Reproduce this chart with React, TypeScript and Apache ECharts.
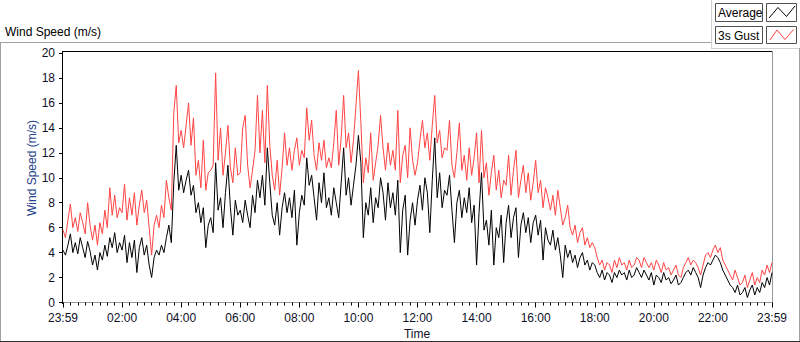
import React, { useEffect, useRef } from "react";
import * as echarts from "echarts";

// Sampling step of the series, minutes (x axis is minutes since 23:59 of the previous day)
const STEP_MIN = 5;

// Average wind speed (m/s), one value every 5 minutes, one row per hour
const avgSpeed = [
  4.2, 3.8, 4.6, 5.5, 4.0, 4.8, 3.9, 5.2, 4.4, 3.6, 4.9, 4.1, // 00
  3.0, 3.8, 2.6, 4.0, 3.4, 4.6, 3.7, 5.2, 4.4, 5.6, 4.0, 4.8, // 01
  4.2, 5.4, 3.2, 4.8, 3.6, 5.0, 2.4, 4.4, 5.2, 3.8, 4.6, 3.0, // 02
  2.0, 3.6, 4.2, 3.8, 4.6, 4.0, 5.2, 6.2, 4.8, 9.6, 12.6, 9.0, // 03
  10.2, 8.8, 9.8, 10.6, 8.6, 9.4, 7.2, 8.0, 6.4, 7.6, 4.4, 6.2, // 04
  6.8, 5.6, 11.2, 7.4, 8.4, 6.0, 8.8, 11.0, 7.6, 5.4, 8.2, 7.0, // 05
  7.4, 6.4, 8.2, 7.0, 6.0, 8.6, 7.2, 9.8, 8.4, 10.2, 7.8, 12.4, // 06
  9.6, 7.0, 6.2, 8.0, 5.4, 7.6, 8.8, 7.2, 8.4, 6.8, 9.0, 4.6, // 07
  7.2, 8.6, 7.8, 11.6, 9.4, 10.2, 8.4, 6.6, 9.6, 8.0, 10.4, 7.6, // 08
  8.4, 7.0, 9.2, 8.0, 6.8, 9.6, 12.4, 8.6, 10.0, 7.8, 9.4, 11.0, // 09
  13.4, 11.2, 5.2, 8.0, 7.0, 9.2, 6.4, 8.4, 7.6, 10.0, 8.8, 6.6, // 10
  9.6, 7.6, 8.8, 7.0, 9.8, 4.0, 7.4, 8.6, 3.8, 6.6, 8.0, 6.2, // 11
  8.2, 9.4, 7.4, 10.0, 8.8, 5.6, 9.8, 13.2, 8.4, 10.4, 7.6, 9.0, // 12
  8.6, 10.2, 7.4, 4.8, 8.0, 9.0, 6.8, 8.4, 7.2, 9.2, 6.4, 7.8, // 13
  3.0, 7.2, 10.4, 5.8, 6.6, 4.6, 7.4, 3.0, 6.0, 5.2, 7.0, 3.2, // 14
  6.4, 7.8, 5.2, 6.8, 7.6, 3.6, 6.2, 7.2, 5.6, 6.8, 4.8, 6.4, // 15
  7.0, 5.4, 6.6, 3.4, 6.0, 5.0, 4.6, 5.8, 4.2, 5.2, 3.8, 2.0, // 16
  4.6, 3.6, 4.2, 3.2, 3.8, 2.8, 3.6, 4.0, 3.0, 3.4, 2.6, 3.2, // 17
  3.0, 2.4, 2.0, 2.6, 1.8, 2.4, 2.2, 1.6, 2.4, 2.0, 2.6, 2.2, // 18
  2.4, 1.8, 2.6, 2.0, 2.2, 2.8, 2.4, 2.0, 2.6, 2.2, 1.8, 2.4, // 19
  1.4, 2.2, 2.0, 1.6, 2.4, 1.8, 2.0, 1.5, 1.8, 2.2, 1.4, 1.6, // 20
  2.0, 2.4, 2.6, 2.2, 2.8, 2.4, 2.0, 1.2, 2.2, 2.8, 3.2, 3.0, // 21
  3.4, 3.8, 3.6, 3.2, 2.6, 2.2, 1.8, 1.4, 1.2, 0.8, 1.4, 0.6, // 22
  0.8, 1.2, 0.4, 1.0, 1.4, 0.6, 1.2, 0.8, 1.6, 1.2, 2.0, 1.4, // 23
  2.4,
];

// 3 second gust (m/s), same sampling
const gustSpeed = [
  5.8, 5.2, 6.6, 7.9, 6.0, 6.8, 5.7, 7.2, 6.4, 5.5, 8.0, 6.2, // 00
  5.0, 6.2, 4.6, 6.4, 5.5, 7.4, 6.0, 9.2, 7.0, 8.6, 6.8, 7.6, // 01
  7.2, 9.5, 6.6, 8.4, 7.0, 8.8, 6.2, 7.8, 9.0, 7.2, 8.2, 6.0, // 02
  3.8, 6.2, 7.0, 6.0, 7.8, 6.8, 9.8, 8.4, 7.4, 15.2, 17.4, 12.8, // 03
  13.8, 12.4, 14.2, 16.0, 12.6, 14.8, 10.2, 11.4, 9.2, 13.0, 9.0, 10.4, // 04
  10.6, 11.0, 18.4, 11.4, 14.0, 10.2, 12.0, 14.2, 10.8, 9.6, 12.4, 10.2, // 05
  10.4, 14.0, 15.0, 11.0, 9.2, 10.6, 12.2, 16.6, 12.0, 15.4, 11.2, 17.4, // 06
  12.6, 10.2, 9.0, 11.4, 8.6, 10.8, 13.6, 11.0, 12.4, 10.6, 12.2, 13.2, // 07
  11.0, 12.2, 11.6, 15.6, 13.0, 14.6, 11.8, 10.6, 12.8, 11.4, 13.0, 10.8, // 08
  11.6, 10.8, 12.8, 15.4, 11.0, 13.2, 16.6, 12.4, 13.6, 11.2, 13.0, 15.8, // 09
  18.6, 14.4, 9.6, 11.6, 10.4, 13.6, 9.8, 11.2, 12.6, 15.0, 12.4, 10.6, // 10
  12.8, 11.0, 12.2, 10.6, 15.4, 9.6, 11.8, 12.6, 10.0, 14.0, 11.4, 10.2, // 11
  11.2, 13.0, 14.6, 12.4, 13.6, 11.4, 14.2, 16.6, 12.8, 13.8, 11.6, 12.4, // 12
  12.2, 14.6, 11.0, 10.0, 12.0, 14.4, 10.6, 11.8, 9.8, 12.4, 10.2, 11.6, // 13
  13.6, 9.6, 13.8, 10.0, 11.2, 8.6, 10.4, 11.8, 9.0, 10.6, 8.4, 9.8, // 14
  9.4, 11.8, 8.6, 10.6, 12.2, 8.4, 9.8, 11.0, 8.8, 10.4, 8.2, 9.6, // 15
  11.4, 8.8, 9.8, 7.6, 9.2, 8.4, 7.4, 8.6, 7.0, 9.0, 7.6, 6.2, // 16
  6.8, 7.8, 6.0, 5.4, 6.2, 4.8, 5.6, 6.0, 4.6, 5.2, 4.4, 4.8, // 17
  4.4, 3.6, 3.0, 3.4, 2.6, 3.2, 3.0, 2.4, 3.4, 2.8, 3.6, 3.0, // 18
  3.2, 2.6, 3.4, 2.8, 3.0, 3.6, 3.4, 2.8, 3.6, 3.2, 2.8, 3.2, // 19
  2.6, 3.4, 3.0, 2.4, 3.2, 2.6, 2.8, 2.2, 2.6, 3.0, 2.2, 2.0, // 20
  2.8, 3.2, 3.6, 3.0, 3.4, 3.2, 2.8, 2.2, 3.0, 3.8, 4.0, 3.6, // 21
  4.2, 4.6, 4.0, 4.4, 3.4, 3.0, 2.6, 2.2, 1.8, 2.6, 2.0, 1.4, // 22
  1.6, 2.2, 1.2, 1.8, 2.4, 1.4, 2.0, 1.6, 2.6, 2.2, 3.0, 2.4, // 23
  3.2,
];

const seriesNames = ["Average", "3s Gust"];
const edgeLabel = "23:59";
const chartTitle = "Wind Speed (m/s)";
const yAxisTitle = "Wind Speed (m/s)";
const xAxisTitle = "Time";

const FONT = "'Liberation Sans', Arial, sans-serif";

export default function App() {
  const ref = useRef<HTMLDivElement>(null);

  useEffect(() => {
    if (!ref.current) return;
    const chart = echarts.init(ref.current, undefined, { renderer: "svg" });

    const toPairs = (arr: number[]) => arr.map((v, i) => [i * STEP_MIN, v]);

    const fmtTime = (v: number) => {
      if (v === 0 || v === 1440) return edgeLabel;
      const h = Math.round(v / 60);
      return (h < 10 ? "0" : "") + h + ":00";
    };

    const gray = "#a0a0a0";
    const light = "#d0d0d0";

    chart.setOption({
      animation: false,
      backgroundColor: "#ffffff",
      grid: { left: 63, top: 53, width: 709, height: 249.5, containLabel: false },
      xAxis: {
        type: "value",
        min: 0,
        max: 1440,
        interval: 120,
        offset: 1,
        axisLine: { show: true, lineStyle: { color: "#9a9a9a", width: 1 } },
        axisTick: { show: true, length: 5, lineStyle: { color: "#000", width: 1 } },
        minorTick: { show: true, splitNumber: 8, length: 3, lineStyle: { color: "#000", width: 1 } },
        splitLine: { show: false },
        minorSplitLine: { show: false },
        axisLabel: {
          margin: 8,
          color: "#101028",
          fontSize: 12,
          fontFamily: FONT,
          formatter: fmtTime,
          showMinLabel: true,
          showMaxLabel: true,
        },
      },
      yAxis: {
        type: "value",
        min: 0,
        max: 20,
        interval: 2,
        offset: 1,
        axisLine: { show: false },
        axisTick: { show: true, length: 4, lineStyle: { color: "#000", width: 1 } },
        splitLine: { show: false },
        axisLabel: { margin: 7, color: "#101028", fontSize: 12, fontFamily: FONT },
      },
      series: [
        {
          name: seriesNames[1],
          type: "line",
          data: toPairs(gustSpeed),
          showSymbol: false,
          symbol: "none",
          lineStyle: { color: "#ff4444", width: 1 },
          z: 2,
        },
        {
          name: seriesNames[0],
          type: "line",
          data: toPairs(avgSpeed),
          showSymbol: false,
          symbol: "none",
          lineStyle: { color: "#000000", width: 1 },
          z: 3,
        },
      ],
      graphic: [
        // outer frame
        { type: "line", shape: { x1: 0.5, y1: 42, x2: 0.5, y2: 342 }, style: { stroke: gray, lineWidth: 1 } },
        { type: "line", shape: { x1: 0, y1: 42.5, x2: 711, y2: 42.5 }, style: { stroke: gray, lineWidth: 1 } },
        { type: "line", shape: { x1: 711.5, y1: 0, x2: 711.5, y2: 49 }, style: { stroke: light, lineWidth: 1 } },
        { type: "line", shape: { x1: 711, y1: 48.5, x2: 800, y2: 48.5 }, style: { stroke: light, lineWidth: 1 } },
        { type: "line", shape: { x1: 799.5, y1: 48, x2: 799.5, y2: 342 }, style: { stroke: gray, lineWidth: 1 } },
        { type: "line", shape: { x1: 0, y1: 341.5, x2: 800, y2: 341.5 }, style: { stroke: "#303030", lineWidth: 1 } },
        // plot frame
        { type: "line", shape: { x1: 62, y1: 51.5, x2: 773, y2: 51.5 }, style: { stroke: "#000", lineWidth: 1 } },
        { type: "line", shape: { x1: 62.5, y1: 51, x2: 62.5, y2: 304 }, style: { stroke: "#000", lineWidth: 1 } },
        { type: "line", shape: { x1: 772.5, y1: 51, x2: 772.5, y2: 304 }, style: { stroke: "#9a9a9a", lineWidth: 1 } },
        // titles
        {
          type: "text",
          x: 5,
          y: 32,
          style: { text: chartTitle, fill: "#000", font: `12px ${FONT}`, verticalAlign: "middle", align: "left" },
        },
        {
          type: "text",
          x: 32,
          y: 168,
          rotation: Math.PI / 2,
          style: { text: yAxisTitle, fill: "#23418a", font: `12px ${FONT}`, verticalAlign: "middle", align: "center" },
        },
        {
          type: "text",
          x: 417,
          y: 334,
          style: { text: xAxisTitle, fill: "#101028", font: `12px ${FONT}`, verticalAlign: "middle", align: "center" },
        },
        // legend
        { type: "rect", shape: { x: 715.5, y: 3.5, width: 47, height: 18 }, style: { fill: "#fff", stroke: "#505050", lineWidth: 1 } },
        { type: "rect", shape: { x: 766.5, y: 3.5, width: 30, height: 18 }, style: { fill: "#fff", stroke: "#505050", lineWidth: 1 } },
        {
          type: "text",
          x: 718,
          y: 13,
          style: { text: seriesNames[0], fill: "#000", font: `12px ${FONT}`, verticalAlign: "middle", align: "left" },
        },
        {
          type: "polyline",
          shape: { points: [[769, 18], [778, 7.5], [786.5, 16.5], [795, 6]] },
          style: { stroke: "#000", lineWidth: 1, fill: "none" },
        },
        { type: "rect", shape: { x: 715.5, y: 26.5, width: 47, height: 17 }, style: { fill: "#fff", stroke: "#505050", lineWidth: 1 } },
        { type: "rect", shape: { x: 766.5, y: 26.5, width: 30, height: 17 }, style: { fill: "#fff", stroke: "#505050", lineWidth: 1 } },
        {
          type: "text",
          x: 718,
          y: 35.5,
          style: { text: seriesNames[1], fill: "#000", font: `12px ${FONT}`, verticalAlign: "middle", align: "left" },
        },
        {
          type: "polyline",
          shape: { points: [[770, 40], [777, 30], [785, 39.5], [793.5, 29.5]] },
          style: { stroke: "#ff4444", lineWidth: 1, fill: "none" },
        },
      ],
    });

    return () => chart.dispose();
  }, []);

  return (
    <div
      ref={ref}
      style={{ position: "fixed", left: 0, top: 0, width: 800, height: 342, background: "#fff" }}
    />
  );
}
